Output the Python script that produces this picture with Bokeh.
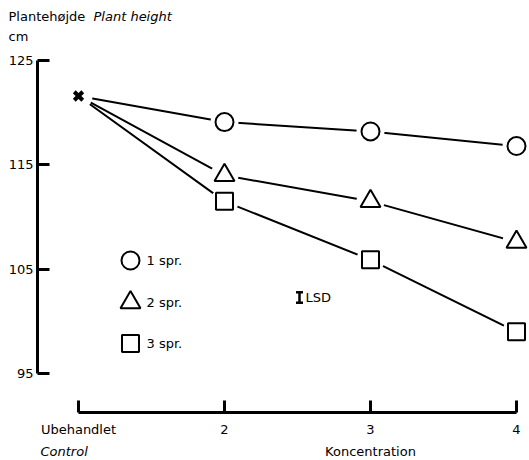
from bokeh.plotting import figure
from bokeh.models import Range1d, FixedTicker, Label
from bokeh.embed import file_html
from bokeh.resources import INLINE

# ---- data ----
categories = ["Ubehandlet", "2", "3", "4"]
x_pos = [1, 2, 3, 4]
control_height = 121.6
spr1 = [119.1, 118.2, 116.8]
spr2 = [114.0, 111.5, 107.6]
spr3 = [111.5, 105.9, 99.0]
series_labels = ["1 spr.", "2 spr.", "3 spr."]
series_markers = ["circle", "triangle", "square"]
series_sizes = [18, 20, 17]
y_ticks = [95, 105, 115, 125]
lsd_value = 1.0

FONT = "DejaVu Sans"
FS = "13px"
W, H = 529, 460


# canvas-pixel -> data helpers (layout only)
def px2x(px):
    return 1 + (px - 78) / 146.0


def py2y(py):
    return 125 - (py - 60) / 10.4333


p = figure(width=W, height=H,
           x_range=Range1d(px2x(0), px2x(W)),
           y_range=Range1d(py2y(H), py2y(0)),
           output_backend="svg", toolbar_location=None,
           min_border=0)
p.grid.visible = False
p.outline_line_color = None
p.background_fill_color = "white"
p.border_fill_color = "white"

# y axis
ya = p.yaxis[0]
ya.fixed_location = px2x(37)
ya.bounds = (95, 125)
ya.ticker = FixedTicker(ticks=y_ticks)
ya.minor_tick_line_color = None
ya.major_tick_in = 12
ya.major_tick_out = 0
ya.axis_line_width = 3
ya.major_tick_line_width = 3
ya.axis_line_color = "black"
ya.major_tick_line_color = "black"
ya.major_label_text_font = FONT
ya.major_label_text_font_size = FS
ya.major_label_text_color = "black"
ya.major_label_standoff = 4

# x axis
xa = p.xaxis[0]
xa.fixed_location = py2y(412)
xa.bounds = (1, 4)
xa.ticker = FixedTicker(ticks=x_pos)
xa.major_label_overrides = {x: c for x, c in zip(x_pos, categories)}
xa.minor_tick_line_color = None
xa.major_tick_in = 12
xa.major_tick_out = 0
xa.axis_line_width = 3
xa.major_tick_line_width = 3
xa.axis_line_color = "black"
xa.major_tick_line_color = "black"
xa.major_label_text_font = FONT
xa.major_label_text_font_size = FS
xa.major_label_text_color = "black"
xa.major_label_standoff = 9

# lines
all_series = [spr1, spr2, spr3]
for s in all_series:
    p.line(x_pos, [control_height] + s, line_color="black", line_width=2)

# white halos to leave gaps between lines and markers
hx = [x_pos[0]] + [x for s in all_series for x in x_pos[1:]]
hy = [control_height] + [v for s in all_series for v in s]
p.scatter(hx, hy, marker="circle", size=28, fill_color="white", line_color=None)

# control marker
p.scatter([x_pos[0]], [control_height], marker="x", size=12,
          line_color="black", line_width=4)

# series markers
for s, m, sz in zip(all_series, series_markers, series_sizes):
    p.scatter(x_pos[1:], s, marker=m, size=sz, fill_color="white",
              line_color="black", line_width=2)

# legend (manual)
leg_y_px = [260, 302, 343]
for lab, m, sz, ly in zip(series_labels, series_markers, series_sizes, leg_y_px):
    p.scatter([px2x(130)], [py2y(ly)], marker=m, size=sz, fill_color="white",
              line_color="black", line_width=2)
    p.add_layout(Label(x=px2x(146), y=py2y(ly), text=lab, text_font=FONT,
                       text_font_size=FS, text_baseline="middle",
                       text_align="left", text_color="black"))

# LSD bar
lsd_x = px2x(299)
lsd_c = py2y(297)
lsd_lo, lsd_hi = lsd_c - lsd_value / 2, lsd_c + lsd_value / 2
p.segment(x0=[lsd_x], y0=[lsd_lo], x1=[lsd_x], y1=[lsd_hi],
          line_color="black", line_width=2.5)
p.scatter([lsd_x, lsd_x], [lsd_lo, lsd_hi], marker="dash", size=7,
          line_color="black", line_width=2.5)
p.add_layout(Label(x=px2x(305), y=lsd_c, text="LSD", text_font=FONT,
                   text_font_size=FS, text_baseline="middle",
                   text_align="left", text_color="black"))


def text_label(x_px, y_px, txt, italic=False, align="left"):
    p.add_layout(Label(x=px2x(x_px), y=py2y(y_px), text=txt, text_font=FONT,
                       text_font_size=FS,
                       text_font_style="italic" if italic else "normal",
                       text_baseline="middle", text_align=align,
                       text_color="black"))


# titles / axis texts
text_label(8, 16, "Plantehøjde")
text_label(93, 16, "Plant height", italic=True)
text_label(8, 35.5, "cm")
text_label(40, 451, "Control", italic=True)
text_label(370, 451, "Koncentration", align="center")

open("out.html", "w").write(file_html(p, INLINE))
